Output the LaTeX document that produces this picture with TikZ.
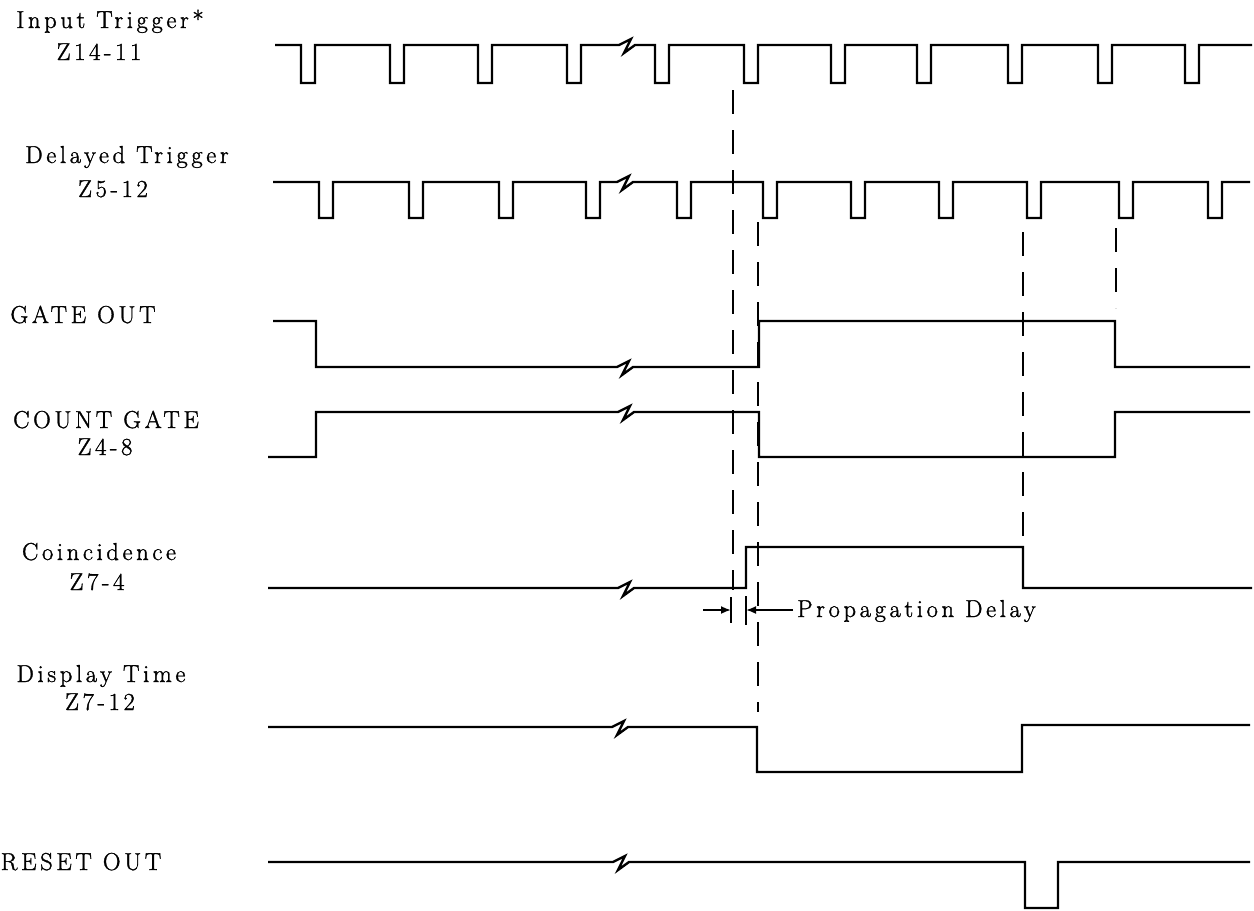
\documentclass[tikz,border=0pt]{standalone}
\usepackage{fontspec}
\setmainfont{Latin Modern Roman}[LetterSpace=15, FakeBold=1.3]
\usetikzlibrary{arrows.meta}
\tikzset{
  trace/.style={line width=2.4pt, line join=miter, line cap=butt},
  guide/.style={line width=2.6pt, dash pattern=on 24pt off 16pt},
  tick/.style={line width=2pt},
  lbl/.style={anchor=base, inner sep=0pt, font=\fontsize{24.5}{28}\selectfont},
  dimarrow/.style={line width=1.8pt, -{Latex[length=10pt,width=8pt]}}
}
\begin{document}
\begin{tikzpicture}[x=1pt,y=-1pt]
\useasboundingbox (0,0) rectangle (1254,911);
% labels
\node[lbl] (l1a) at (110,28) {Input Trigger*};
\node[lbl] (l1b) at (99,60) {Z14-11};
\node[lbl] (l2a) at (127,163) {Delayed Trigger};
\node[lbl] (l2b) at (113,197) {Z5-12};
\node[lbl] (l3) at (83,323) {GATE OUT};
\node[lbl] (l4a) at (106,428) {COUNT GATE};
\node[lbl] (l4b) at (105,455) {Z4-8};
\node[lbl] (l5a) at (99,560) {Coincidence};
\node[lbl] (l5b) at (97,590) {Z7-4};
\node[lbl] (l6a) at (101,682) {Display Time};
\node[lbl] (l6b) at (100,710) {Z7-12};
\node[lbl] (l7) at (81,870) {RESET OUT};
\node[lbl, anchor=base west] (pd) at (797,617) {Propagation Delay};

% Input trigger
\draw[trace] (275,45)
  foreach \f in {301,390,478,567}{ -- (\f,45) -- (\f,83) -- (\f+14,83) -- (\f+14,45) }
  -- (619,45) -- (631,39) -- (624,53) -- (635,45)
  foreach \f in {655,744,831,917,1008,1098,1185}{ -- (\f,45) -- (\f,83) -- (\f+14,83) -- (\f+14,45) }
  -- (1252,45);
% Delayed trigger
\draw[trace] (273,182)
  foreach \f in {319,409,499,586}{ -- (\f,182) -- (\f,218) -- (\f+14,218) -- (\f+14,182) }
  -- (617,182) -- (629,176) -- (622,190) -- (633,182)
  foreach \f in {677,763,851,939,1027,1119,1208}{ -- (\f,182) -- (\f,218) -- (\f+14,218) -- (\f+14,182) }
  -- (1250,182);
% Gate out
\draw[trace] (273,321) -- (316,321) -- (316,367)
  -- (617,367) -- (629,361) -- (622,375) -- (633,367)
  -- (759,367) -- (759,321) -- (1115,321) -- (1115,367) -- (1250,367);
% Count gate
\draw[trace] (268,457) -- (316,457) -- (316,412)
  -- (618,412) -- (630,406) -- (623,420) -- (634,412)
  -- (759,412) -- (759,457) -- (1115,457) -- (1115,412) -- (1250,412);
% Coincidence
\draw[trace] (268,588)
  -- (618,588) -- (630,582) -- (623,596) -- (634,588)
  -- (746,588) -- (746,547) -- (1023,547) -- (1023,588) -- (1252,588);
% Display time
\draw[trace] (268,727)
  -- (612,727) -- (624,721) -- (617,735) -- (628,727)
  -- (757,727) -- (757,772) -- (1022,772) -- (1022,725) -- (1250,725);
% Reset out
\draw[trace] (268,862)
  -- (613,862) -- (625,856) -- (618,870) -- (629,862)
  -- (1025,862) -- (1025,908) -- (1058,908) -- (1058,862) -- (1250,862);

% guide lines
\coordinate (ga1) at (733,90);  \coordinate (ga2) at (733,590);
\coordinate (gb1) at (758,222); \coordinate (gb2) at (758,712);
\coordinate (gc1) at (1023,232); \coordinate (gc2) at (1023,540);
\coordinate (gd1) at (1116,228); \coordinate (gd2) at (1116,308);
\draw[guide] (ga1) -- (ga2);
\draw[guide] (gb1) -- (gb2);
\draw[guide] (gc1) -- (gc2);
\draw[guide] (gd1) -- (gd2);

% propagation delay dimension
\coordinate (ta1) at (731,597); \coordinate (ta2) at (731,623);
\coordinate (tb1) at (746,596); \coordinate (tb2) at (746,625);
\draw[tick] (ta1) -- (ta2);
\draw[tick] (tb1) -- (tb2);
\coordinate (al) at (703,610); \coordinate (alt) at (731,610);
\coordinate (ar) at (793,610); \coordinate (art) at (746,610);
\draw[dimarrow] (al) -- (alt);
\draw[dimarrow] (ar) -- (art);
\end{tikzpicture}
\end{document}
